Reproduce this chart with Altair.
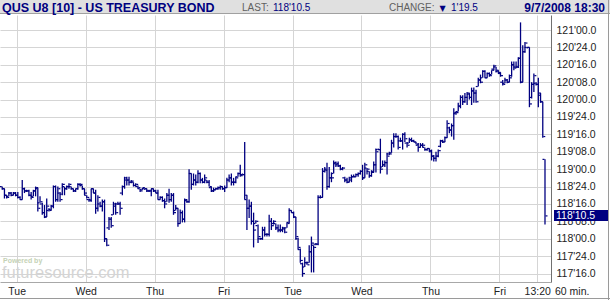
import altair as alt
import pandas as pd

NAVY = "#000080"
FONT = "Liberation Sans"

# ---------------- data (prices in 32nds above 117'00) ----------------
BASE = 117

open_32 = [
    56, 55, 52, 51.5, 53, 52, 53,
    52, 51, 50, 55, 54, 54, 52, 51.5, 54, 55, 48.5, 48, 44, 42, 45, 45.5, 47, 56, 50, 53, 52.5, 56, 55, 56, 56, 55, 54, 55, 57, 56.5, 55,
    52, 50, 50, 55, 53, 46, 48, 47, 49, 32, 37, 41, 43, 47, 48, 48, 53, 56, 59, 59, 58, 58, 56.5, 56, 55, 54.5, 55, 55, 54, 54, 55,
    54, 53, 50, 51, 49.5, 49, 52, 50, 52, 45, 46, 39, 44, 41, 49.5, 49, 62, 57, 59, 58, 62, 59, 58, 59, 58, 55.5, 54, 54.5, 55, 55.5, 56,
    55, 55.5, 59, 60, 58, 58, 60.5, 62, 61.5, 61.5, 50, 46, 47, 40, 39, 38, 32, 32, 36, 34, 34, 40, 39, 39, 37, 36, 36, 36.5, 37, 39.5, 45,
    44, 42, 32, 27, 20.5, 19, 21, 21, 26, 29, 29.5, 29.5, 51, 51, 63, 64, 56, 60, 62, 66.5, 66, 65.5, 64, 60, 59, 58, 59, 60.5, 60.5, 61.5, 62,
    63, 60, 64.5, 63, 61, 63, 66, 73, 73, 65, 66, 67, 71, 71.5, 76, 79, 79, 77, 77, 80, 76, 76, 77.5, 77, 76.5, 75, 74, 75, 74, 73, 73.5,
    72, 70, 69, 70, 74.5, 77, 76.5, 78.5, 83, 82, 84, 89.5, 90.5, 93, 97, 95, 97, 98.5, 97, 100, 99, 102, 105, 106, 109, 106, 108, 107.5, 110, 111, 109,
    108, 104, 103.5, 105, 104, 107, 112, 111, 111, 115, 104, 118, 120, 120, 97, 103, 103.5, 103, 98, 95, 68.5,
]
high_32 = [
    56, 55, 52, 53.5, 53.5, 53.5, 53.5,
    53.5, 51.5, 59, 55.5, 54.5, 54.5, 53.5, 54.5, 56, 55.5, 51.5, 48.5, 47.5, 50.5, 46, 47.5, 56.5, 56.5, 56, 53.5, 57.5, 56, 56.5, 57.5, 56, 55, 55, 57.5, 57.5, 56.5, 55,
    52, 50.5, 55, 55, 54.5, 52, 49, 50, 50, 32, 42, 42, 49, 48.5, 49, 49, 56.5, 60.5, 60.5, 60.5, 59, 58, 57.5, 56.5, 55, 55.5, 55, 55, 54.5, 55, 55,
    54.5, 54.5, 51.5, 51.5, 50.5, 53, 55, 53, 53, 47.5, 46, 45.5, 45, 50.5, 50, 64, 62, 62, 61.5, 63.5, 62.5, 60, 61.5, 59, 59, 56, 55.5, 55.5, 56, 56.5, 56,
    56.5, 60, 61.5, 62, 60, 60.5, 62.5, 66, 62, 76.5, 52, 50, 49, 44, 40.5, 38.5, 32.5, 37.5, 37.5, 34.5, 43, 41.5, 40.5, 39, 38.5, 38.5, 37.5, 37, 39.5, 46, 45,
    44.5, 42, 32.5, 27.5, 21, 23.5, 21.5, 29, 33, 29, 30, 52, 52, 64.5, 65, 67, 65, 62.5, 68, 67.5, 67.5, 66, 65, 60.5, 60, 60.5, 61.5, 61.5, 62, 62.5, 63.5,
    66, 67, 64.5, 63, 63.5, 67.5, 73.5, 73.5, 78, 68, 68, 71.5, 72, 77.5, 80.5, 80.5, 79.5, 78.5, 80.5, 81, 76.5, 78.5, 78.5, 77.5, 76.5, 76, 76, 76, 74, 73.5, 73.5,
    73, 70.5, 72, 73, 77.5, 77.5, 79, 86.5, 83.5, 85, 92, 90.5, 94.5, 98, 98, 99, 99.5, 99, 101.5, 101.5, 100.5, 106, 107.5, 109.5, 109.5, 108.5, 108.5, 109.5, 112, 111, 109.5,
    108.5, 105, 106, 105.5, 107.5, 113.5, 113.5, 113.5, 115.5, 131.5, 121, 122.5, 120, 120, 104, 108, 104, 106, 99, 95, 68.5,
]
low_32 = [
    54.5, 50.5, 50.5, 51.5, 51.5, 52, 51.5,
    50.5, 50, 50, 53, 53.5, 51.5, 50, 51.5, 51.5, 44.5, 48.5, 43, 41.5, 42, 44.5, 45, 46, 49, 49, 49, 52, 52, 54.5, 55, 54.5, 53.5, 53.5, 54.5, 56, 54.5, 52,
    50.5, 49, 49, 53, 43.5, 44.5, 46.5, 44.5, 30.5, 28.5, 36, 37, 43, 43, 47.5, 43, 52, 55, 56.5, 56.5, 57.5, 56, 56, 55, 53.5, 54.5, 54.5, 53.5, 53.5, 51.5, 53.5,
    53, 50, 50, 49, 46, 49, 48.5, 49, 43, 45, 37.5, 39, 39.5, 39.5, 48.5, 48.5, 54.5, 56.5, 56.5, 57.5, 57.5, 57.5, 57.5, 57.5, 56, 53.5, 53.5, 54.5, 54.5, 54.5, 54.5,
    53.5, 55.5, 58, 56.5, 56.5, 57.5, 60.5, 60.5, 61.5, 50, 36, 41.5, 38.5, 28, 39, 30, 31.5, 31.5, 33, 33, 33, 36, 38.5, 36, 35, 35, 35, 34.5, 37, 39, 44,
    41.5, 31.5, 27, 21, 14.5, 19, 20, 21, 16.5, 16.5, 29, 29, 50.5, 51, 62.5, 54.5, 55.5, 58, 62, 65, 65, 63.5, 63.5, 58, 57.5, 58, 58, 60.5, 60.5, 60.5, 61.5,
    59, 60, 61.5, 60, 60.5, 62.5, 62.5, 73, 62, 65, 65, 61.5, 70.5, 71.5, 74, 78.5, 73, 76.5, 73, 76.5, 74, 76, 76.5, 76.5, 75.5, 72, 74, 74, 72.5, 72.5, 72,
    68, 67.5, 67.5, 69.5, 74, 76, 76.5, 78.5, 80.5, 79, 77.5, 89, 90.5, 92, 93.5, 94.5, 93.5, 96, 93.5, 94.5, 94.5, 102, 103.5, 106, 106, 106, 106.5, 107.5, 109.5, 108.5, 108,
    106.5, 102.5, 103.5, 103.5, 104, 106.5, 109.5, 110.5, 110.5, 103.5, 104, 117.5, 119.5, 92.5, 96.5, 99.5, 102.5, 92.5, 94.5, 78.5, 38.5,
]
close_32 = [
    55, 52, 51, 53, 52, 53, 52,
    51, 50, 55, 54, 54, 52, 51, 54, 55.5, 46, 49, 44, 42, 47, 45, 47, 56, 50, 55, 50, 57, 55, 56, 57, 55, 54, 55, 57, 57, 55, 53,
    51, 49.5, 55, 53, 46, 51, 47, 49, 32, 29, 41, 38, 48, 44, 48, 46, 56, 60, 59, 58, 58.5, 56.5, 57, 55.5, 54, 55.5, 55, 54, 54, 55, 54,
    53, 50, 51, 49.5, 48, 52, 50, 52, 44, 46, 39, 44, 41, 50, 49, 62, 57, 59, 58, 62, 59, 58, 60, 58, 56, 54, 54.5, 55, 55.5, 56, 55,
    55.5, 59, 60, 58, 58, 60, 62, 61, 61.5, 52, 46, 47, 40, 36, 40, 33, 32, 36, 34, 34, 40, 38, 40, 37, 36, 36, 37, 35, 39, 45, 44,
    42, 33, 28, 22, 16, 21, 20, 26, 30, 28, 29.5, 51, 51, 63, 63.5, 56, 60, 60, 67, 66.5, 65.5, 64, 64.5, 59, 58, 60, 60.5, 60.5, 61.5, 62, 63,
    60, 66, 64, 61, 62.5, 66, 72, 73, 64, 66, 67, 70, 71, 76, 79, 79, 74, 77, 80, 78, 75, 77.5, 77, 76.5, 75.5, 74, 75, 75, 73, 73.5, 72.5,
    70, 69, 70, 72.5, 77, 76.5, 78.5, 85, 82, 84, 90, 90, 93, 97, 95, 97, 99, 97, 100, 99, 95, 105, 104, 109, 106, 108, 107, 109.5, 111.5, 109.5, 108.5,
    107, 103, 105, 104, 106, 112, 110.5, 111, 115, 104, 118, 122, 120, 94, 103, 107, 103, 99, 95, 79, 42.5,
]

# session boundaries (bar positions) and their labels
day_pos = [6.5, 37.5, 68.5, 99.5, 130.5, 161.5, 192.5, 223.5, 240.5]
day_labels = ["Tue", "Wed", "Thu", "Fri", "Tue", "Wed", "Thu", "Fri", "13:20"]

# price ticks in 32nds above 117'00
tick_32 = [16, 24, 32, 40, 48, 56, 64, 72, 80, 88, 96, 104, 112, 120, 128]

title_text = "QUS U8 [10] - US TREASURY BOND"
last_label = "LAST:"
last_value = "118'10.5"
change_label = "CHANGE:"
change_value = "1'19.5"
stamp_text = "9/7/2008 18:30"
interval_text = "60 min."

# ---------------- build ----------------
n = len(open_32)
df = pd.DataFrame({
    "bar": list(range(n)),
    "open": [BASE + v / 32 for v in open_32],
    "high": [BASE + v / 32 for v in high_32],
    "low": [BASE + v / 32 for v in low_32],
    "close": [BASE + v / 32 for v in close_32],
})
tick_vals = [BASE + v / 32 for v in tick_32]

W, H = 551, 267
x_scale = alt.Scale(domain=[-1.0, 246.7], nice=False, zero=False)
y_scale = alt.Scale(domain=[BASE + 12.1 / 32, BASE + 134.9 / 32], nice=False, zero=False)

xlabel_expr = ("[" + ",".join(f"'{l}'" for l in day_labels) + "][indexof(["
               + ",".join(str(p) for p in day_pos) + "], datum.value)]")
ylabel_expr = ("floor(round(datum.value*32)/32) + \"'\" + "
               "(round(datum.value*32)%32 < 10 ? '0' : '') + (round(datum.value*32)%32) + '.0'")

x_axis = alt.Axis(
    values=day_pos, labelExpr=xlabel_expr, grid=True, gridColor="#d5d5d5", gridWidth=1,
    ticks=False, domainColor="#a8a8a8", labelFont=FONT, labelFontSize=10.5,
    labelColor="#222222", labelPadding=4, title=None, labelAngle=0,
    labelOverlap=False, labelFlush=False)
y_axis = alt.Axis(
    orient="right", values=tick_vals, labelExpr=ylabel_expr, grid=True,
    gridColor="#d5d5d5", gridWidth=1, ticks=False, domainColor="#707070",
    labelFont=FONT, labelFontSize=10.5, labelColor="#222222", labelPadding=5,
    title=None, labelOverlap=False, labelFlush=False)

base = alt.Chart(df)

hl = base.mark_rule(color=NAVY, strokeWidth=1.3).encode(
    x=alt.X("bar:Q", scale=x_scale, axis=x_axis),
    y=alt.Y("low:Q", scale=y_scale, axis=y_axis),
    y2="high:Q",
)
op = base.mark_tick(color=NAVY, orient="horizontal", size=2, thickness=1.2, xOffset=-1.5, opacity=1).encode(
    x=alt.X("bar:Q", scale=x_scale, axis=x_axis),
    y=alt.Y("open:Q", scale=y_scale, axis=y_axis),
)
cl = base.mark_tick(color=NAVY, orient="horizontal", size=2, thickness=1.2, xOffset=1.5, opacity=1).encode(
    x=alt.X("bar:Q", scale=x_scale, axis=x_axis),
    y=alt.Y("close:Q", scale=y_scale, axis=y_axis),
)

one = pd.DataFrame({"k": [0]})

def txt(s, x, y, **kw):
    return alt.Chart(pd.DataFrame({"t": [s]})).mark_text(**kw).encode(
        text="t:N", x=alt.value(x), y=alt.value(y))

# watermark
wm1 = txt("Powered by", 3, 248, align="left", baseline="alphabetic", font=FONT,
          fontSize=7, fontWeight="bold", color="#c5d2b5")
wm2 = txt("futuresource.com", 2, 263, align="left", baseline="alphabetic", font=FONT,
          fontSize=16.5, color="#d4d4d4")

# header
hdr_bg = alt.Chart(one).mark_rect(color="#e0e0e0").encode(
    x=alt.value(0), x2=alt.value(610), y=alt.value(-15), y2=alt.value(-1.5))
hdr_line = alt.Chart(one).mark_rule(color="#a0a0a0", strokeWidth=1).encode(
    x=alt.value(0), x2=alt.value(610), y=alt.value(-1.5))
t_title = txt(title_text, 2, -2.8, align="left", baseline="alphabetic", font=FONT,
              fontSize=12.5, fontWeight="bold", color=NAVY)
t_last = txt(last_label, 242, -4, align="left", baseline="alphabetic", font=FONT,
             fontSize=10, color="#606060")
t_lastv = txt(last_value, 273, -4, align="left", baseline="alphabetic", font=FONT,
              fontSize=10, color=NAVY)
t_chg = txt(change_label, 389, -4, align="left", baseline="alphabetic", font=FONT,
            fontSize=10, color="#606060")
t_tri = txt("\u25BC", 439.5, -4.5, align="left", baseline="alphabetic", font="DejaVu Sans",
            fontSize=8, color=NAVY)
t_chgv = txt(change_value, 451, -4, align="left", baseline="alphabetic", font=FONT,
             fontSize=10, color=NAVY)
t_stamp = txt(stamp_text, 605, -3.3, align="right", baseline="alphabetic", font=FONT,
              fontSize=12, fontWeight="bold", color=NAVY)

# bottom interval text
t_int = txt(interval_text, 555, 280, align="left", baseline="alphabetic", font=FONT,
            fontSize=10.5, color="#222222")

# frame lines
frame_r = alt.Chart(one).mark_rule(color="#9a9a9a").encode(
    x=alt.value(608.5), y=alt.value(-15), y2=alt.value(285))
frame_b = alt.Chart(one).mark_rule(color="#9a9a9a").encode(
    x=alt.value(0), x2=alt.value(610), y=alt.value(283.5))

# last price box on the right axis
last_df = pd.DataFrame({"price": [BASE + close_32[-1] / 32], "label": [last_value]})
box = alt.Chart(last_df).mark_rect(color=NAVY, yOffset=-6, y2Offset=5).encode(
    x=alt.value(554), x2=alt.value(608),
    y=alt.Y("price:Q", scale=y_scale, axis=y_axis), y2="price:Q")
box_t = alt.Chart(last_df).mark_text(align="left", baseline="middle", font=FONT,
                                     fontSize=10.5, color="white").encode(
    x=alt.value(556), y=alt.Y("price:Q", scale=y_scale, axis=y_axis), text="label:N")

chart = alt.layer(
    hl, op, cl, wm1, wm2, hdr_bg, hdr_line, t_title, t_last, t_lastv, t_chg, t_tri,
    t_chgv, t_stamp, t_int, frame_r, frame_b, box, box_t,
).properties(
    width=W, height=H,
    padding={"left": 0, "top": 15, "right": 59, "bottom": 18},
    autosize=alt.AutoSizeParams(type="none"),
    background="white",
).configure_view(stroke=None)

chart.save("out.html", embed_options={"renderer": "svg", "actions": False})
